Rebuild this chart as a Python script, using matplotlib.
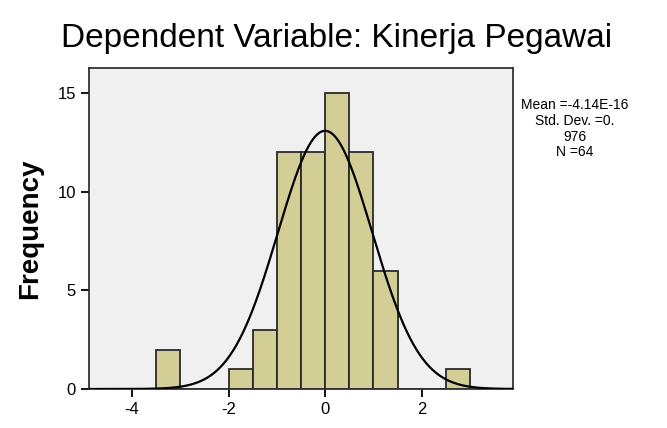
# SPSS-style histogram of standardized residuals with normal curve
import matplotlib.pyplot as plt
import numpy as np

bin_edges = [-3.5, -3.0, -2.5, -2.0, -1.5, -1.0, -0.5, 0.0, 0.5, 1.0, 1.5, 2.0, 2.5, 3.0]
counts = [2, 0, 0, 1, 3, 12, 12, 15, 12, 6, 0, 0, 1]
mean, std, n = -4.14e-16, 0.976, 64

plt.rcParams['font.family'] = ['Liberation Sans', 'DejaVu Sans']
plt.rcParams['axes.unicode_minus'] = False

fig = plt.figure(figsize=(6.67, 4.28), dpi=100)
ax = fig.add_axes([0.1334, 0.0911, 0.6356, 0.7499])
ax.set_facecolor("#F0F0F0")

lefts = np.array(bin_edges[:-1])
widths = np.diff(bin_edges)
ax.bar(lefts, counts, width=widths, align="edge", color="#D3CE96",
       edgecolor="#2a2a2a", linewidth=1.3, zorder=2)

# normal curve scaled to counts
bw = 0.5
xs = np.linspace(-4.9, 3.9, 400)
ys = n * bw / (std * np.sqrt(2 * np.pi)) * np.exp(-0.5 * ((xs - mean) / std) ** 2)
ax.plot(xs, ys, color="black", linewidth=1.6, zorder=3)

ax.set_xlim(-4.89, 3.89)
ax.set_ylim(0, 16.26)
ax.set_xticks([-4, -2, 0, 2])
ax.set_yticks([0, 5, 10, 15])
ax.tick_params(labelsize=12, length=6, width=1.3, direction="out")
for s in ax.spines.values():
    s.set_linewidth(1.3)
    s.set_color("#333333")

ax.set_ylabel("Frequency", fontsize=20, fontweight="bold", labelpad=10)
fig.text(0.505, 0.91, "Dependent Variable: Kinerja Pegawai", ha="center",
         va="center", fontsize=24)
fig.text(0.862, 0.77, "Mean =-4.14E-16\nStd. Dev. =0.\n976\nN =64",
         ha="center", va="top", fontsize=10, linespacing=1.15)

fig.savefig("out.png", dpi=100)
